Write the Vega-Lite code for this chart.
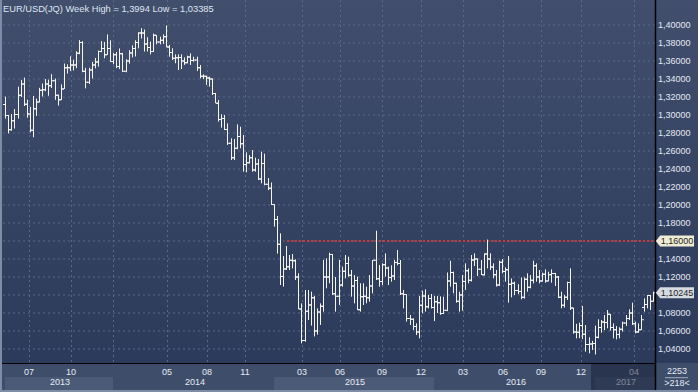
{
"$schema":"https://vega.github.io/schema/vega-lite/v6.json",
"width":698,"height":392,"autosize":{"type":"none"},"padding":0,
"background":"#36435f",
"config":{"view":{"stroke":null},"font":"Liberation Sans","locale":{"number":{"decimal":",","thousands":".","grouping":[3],"currency":["","€"]}}},
"datasets":{
"bars":[
{"d":"2013-05-06","o":1.3118,"h":1.3204,"l":1.2960,"c":1.2995},
{"d":"2013-05-13","o":1.2995,"h":1.3000,"l":1.2796,"c":1.2835},
{"d":"2013-05-20","o":1.2835,"h":1.3010,"l":1.2825,"c":1.2935},
{"d":"2013-05-27","o":1.2935,"h":1.3067,"l":1.2850,"c":1.3005},
{"d":"2013-06-03","o":1.3005,"h":1.3315,"l":1.2960,"c":1.3220},
{"d":"2013-06-10","o":1.3220,"h":1.3390,"l":1.3200,"c":1.3345},
{"d":"2013-06-17","o":1.3345,"h":1.3416,"l":1.3100,"c":1.3120},
{"d":"2013-06-24","o":1.3120,"h":1.3170,"l":1.2970,"c":1.3010},
{"d":"2013-07-01","o":1.3010,"h":1.3090,"l":1.2807,"c":1.2830},
{"d":"2013-07-08","o":1.2830,"h":1.3212,"l":1.2752,"c":1.3070},
{"d":"2013-07-15","o":1.3070,"h":1.3182,"l":1.2990,"c":1.3145},
{"d":"2013-07-22","o":1.3145,"h":1.3302,"l":1.3140,"c":1.3275},
{"d":"2013-07-29","o":1.3275,"h":1.3350,"l":1.3205,"c":1.3280},
{"d":"2013-08-05","o":1.3280,"h":1.3400,"l":1.3265,"c":1.3345},
{"d":"2013-08-12","o":1.3345,"h":1.3392,"l":1.3214,"c":1.3325},
{"d":"2013-08-19","o":1.3325,"h":1.3454,"l":1.3300,"c":1.3380},
{"d":"2013-08-26","o":1.3380,"h":1.3404,"l":1.3168,"c":1.3220},
{"d":"2013-09-02","o":1.3220,"h":1.3228,"l":1.3104,"c":1.3170},
{"d":"2013-09-09","o":1.3170,"h":1.3340,"l":1.3165,"c":1.3290},
{"d":"2013-09-16","o":1.3290,"h":1.3572,"l":1.3289,"c":1.3525},
{"d":"2013-09-23","o":1.3525,"h":1.3562,"l":1.3460,"c":1.3525},
{"d":"2013-09-30","o":1.3525,"h":1.3652,"l":1.3490,"c":1.3555},
{"d":"2013-10-07","o":1.3555,"h":1.3615,"l":1.3495,"c":1.3555},
{"d":"2013-10-14","o":1.3555,"h":1.3708,"l":1.3520,"c":1.3685},
{"d":"2013-10-21","o":1.3685,"h":1.3832,"l":1.3676,"c":1.3805},
{"d":"2013-10-28","o":1.3805,"h":1.3820,"l":1.3476,"c":1.3485},
{"d":"2013-11-04","o":1.3485,"h":1.3525,"l":1.3296,"c":1.3365},
{"d":"2013-11-11","o":1.3365,"h":1.3525,"l":1.3345,"c":1.3500},
{"d":"2013-11-18","o":1.3500,"h":1.3590,"l":1.3405,"c":1.3555},
{"d":"2013-11-25","o":1.3555,"h":1.3634,"l":1.3518,"c":1.3590},
{"d":"2013-12-02","o":1.3590,"h":1.3716,"l":1.3538,"c":1.3705},
{"d":"2013-12-09","o":1.3705,"h":1.3821,"l":1.3698,"c":1.3740},
{"d":"2013-12-16","o":1.3740,"h":1.3812,"l":1.3630,"c":1.3670},
{"d":"2013-12-23","o":1.3670,"h":1.3896,"l":1.3668,"c":1.3740},
{"d":"2013-12-30","o":1.3740,"h":1.3830,"l":1.3590,"c":1.3595},
{"d":"2014-01-06","o":1.3595,"h":1.3690,"l":1.3565,"c":1.3670},
{"d":"2014-01-13","o":1.3670,"h":1.3700,"l":1.3520,"c":1.3540},
{"d":"2014-01-20","o":1.3540,"h":1.3740,"l":1.3510,"c":1.3680},
{"d":"2014-01-27","o":1.3680,"h":1.3690,"l":1.3478,"c":1.3485},
{"d":"2014-02-03","o":1.3485,"h":1.3620,"l":1.3475,"c":1.3600},
{"d":"2014-02-10","o":1.3600,"h":1.3720,"l":1.3570,"c":1.3690},
{"d":"2014-02-17","o":1.3690,"h":1.3775,"l":1.3640,"c":1.3740},
{"d":"2014-02-24","o":1.3740,"h":1.3830,"l":1.3650,"c":1.3805},
{"d":"2014-03-03","o":1.3805,"h":1.3920,"l":1.3740,"c":1.3910},
{"d":"2014-03-10","o":1.3910,"h":1.3965,"l":1.3850,"c":1.3910},
{"d":"2014-03-17","o":1.3910,"h":1.3950,"l":1.3705,"c":1.3790},
{"d":"2014-03-24","o":1.3790,"h":1.3865,"l":1.3705,"c":1.3750},
{"d":"2014-03-31","o":1.3750,"h":1.3815,"l":1.3674,"c":1.3705},
{"d":"2014-04-07","o":1.3705,"h":1.3905,"l":1.3700,"c":1.3885},
{"d":"2014-04-14","o":1.3885,"h":1.3890,"l":1.3785,"c":1.3810},
{"d":"2014-04-21","o":1.3810,"h":1.3870,"l":1.3785,"c":1.3830},
{"d":"2014-04-28","o":1.3830,"h":1.3896,"l":1.3790,"c":1.3870},
{"d":"2014-05-05","o":1.3870,"h":1.3994,"l":1.3752,"c":1.3755},
{"d":"2014-05-12","o":1.3755,"h":1.3778,"l":1.3648,"c":1.3695},
{"d":"2014-05-19","o":1.3695,"h":1.3741,"l":1.3611,"c":1.3630},
{"d":"2014-05-26","o":1.3630,"h":1.3674,"l":1.3574,"c":1.3635},
{"d":"2014-06-02","o":1.3635,"h":1.3674,"l":1.3500,"c":1.3640},
{"d":"2014-06-09","o":1.3640,"h":1.3674,"l":1.3511,"c":1.3600},
{"d":"2014-06-16","o":1.3600,"h":1.3640,"l":1.3556,"c":1.3580},
{"d":"2014-06-23","o":1.3580,"h":1.3659,"l":1.3574,"c":1.3645},
{"d":"2014-06-30","o":1.3645,"h":1.3685,"l":1.3556,"c":1.3605},
{"d":"2014-07-07","o":1.3605,"h":1.3648,"l":1.3593,"c":1.3610},
{"d":"2014-07-14","o":1.3610,"h":1.3648,"l":1.3489,"c":1.3525},
{"d":"2014-07-21","o":1.3525,"h":1.3556,"l":1.3407,"c":1.3430},
{"d":"2014-07-28","o":1.3430,"h":1.3452,"l":1.3400,"c":1.3430},
{"d":"2014-08-04","o":1.3430,"h":1.3437,"l":1.3333,"c":1.3410},
{"d":"2014-08-11","o":1.3410,"h":1.3426,"l":1.3315,"c":1.3400},
{"d":"2014-08-18","o":1.3400,"h":1.3407,"l":1.3222,"c":1.3240},
{"d":"2014-08-25","o":1.3240,"h":1.3245,"l":1.3130,"c":1.3130},
{"d":"2014-09-01","o":1.3130,"h":1.3167,"l":1.2926,"c":1.2950},
{"d":"2014-09-08","o":1.2950,"h":1.3007,"l":1.2859,"c":1.2960},
{"d":"2014-09-15","o":1.2960,"h":1.3000,"l":1.2833,"c":1.2840},
{"d":"2014-09-22","o":1.2840,"h":1.2907,"l":1.2667,"c":1.2685},
{"d":"2014-09-29","o":1.2685,"h":1.2741,"l":1.2500,"c":1.2525},
{"d":"2014-10-06","o":1.2525,"h":1.2733,"l":1.2500,"c":1.2630},
{"d":"2014-10-13","o":1.2630,"h":1.2896,"l":1.2620,"c":1.2760},
{"d":"2014-10-20","o":1.2760,"h":1.2870,"l":1.2630,"c":1.2680},
{"d":"2014-10-27","o":1.2680,"h":1.2778,"l":1.2370,"c":1.2450},
{"d":"2014-11-03","o":1.2450,"h":1.2585,"l":1.2363,"c":1.2470},
{"d":"2014-11-10","o":1.2470,"h":1.2555,"l":1.2460,"c":1.2525},
{"d":"2014-11-17","o":1.2525,"h":1.2611,"l":1.2370,"c":1.2390},
{"d":"2014-11-24","o":1.2390,"h":1.2526,"l":1.2370,"c":1.2455},
{"d":"2014-12-01","o":1.2455,"h":1.2511,"l":1.2278,"c":1.2290},
{"d":"2014-12-08","o":1.2290,"h":1.2593,"l":1.2241,"c":1.2460},
{"d":"2014-12-15","o":1.2460,"h":1.2570,"l":1.2220,"c":1.2230},
{"d":"2014-12-22","o":1.2230,"h":1.2300,"l":1.2165,"c":1.2185},
{"d":"2014-12-29","o":1.2185,"h":1.2250,"l":1.2000,"c":1.2005},
{"d":"2015-01-05","o":1.2005,"h":1.2010,"l":1.1760,"c":1.1840},
{"d":"2015-01-12","o":1.1840,"h":1.1878,"l":1.1460,"c":1.1565},
{"d":"2015-01-19","o":1.1565,"h":1.1685,"l":1.1111,"c":1.1205},
{"d":"2015-01-26","o":1.1205,"h":1.1433,"l":1.1093,"c":1.1290},
{"d":"2015-02-02","o":1.1290,"h":1.1544,"l":1.1278,"c":1.1315},
{"d":"2015-02-09","o":1.1315,"h":1.1444,"l":1.1278,"c":1.1385},
{"d":"2015-02-16","o":1.1385,"h":1.1455,"l":1.1296,"c":1.1380},
{"d":"2015-02-23","o":1.1380,"h":1.1396,"l":1.1167,"c":1.1200},
{"d":"2015-03-02","o":1.1200,"h":1.1241,"l":1.0841,"c":1.0845},
{"d":"2015-03-09","o":1.0845,"h":1.0907,"l":1.0463,"c":1.0495},
{"d":"2015-03-16","o":1.0495,"h":1.1055,"l":1.0481,"c":1.0820},
{"d":"2015-03-23","o":1.0820,"h":1.1055,"l":1.0722,"c":1.0890},
{"d":"2015-03-30","o":1.0890,"h":1.1037,"l":1.0660,"c":1.0970},
{"d":"2015-04-06","o":1.0970,"h":1.0990,"l":1.0540,"c":1.0600},
{"d":"2015-04-13","o":1.0600,"h":1.0852,"l":1.0560,"c":1.0810},
{"d":"2015-04-20","o":1.0810,"h":1.0907,"l":1.0667,"c":1.0875},
{"d":"2015-04-27","o":1.0875,"h":1.1389,"l":1.0815,"c":1.1200},
{"d":"2015-05-04","o":1.1200,"h":1.1407,"l":1.1074,"c":1.1200},
{"d":"2015-05-11","o":1.1200,"h":1.1470,"l":1.1130,"c":1.1450},
{"d":"2015-05-18","o":1.1450,"h":1.1455,"l":1.1000,"c":1.1015},
{"d":"2015-05-25","o":1.1015,"h":1.1200,"l":1.0815,"c":1.0985},
{"d":"2015-06-01","o":1.0985,"h":1.1389,"l":1.0889,"c":1.1110},
{"d":"2015-06-08","o":1.1110,"h":1.1315,"l":1.1092,"c":1.1265},
{"d":"2015-06-15","o":1.1265,"h":1.1444,"l":1.1185,"c":1.1350},
{"d":"2015-06-22","o":1.1350,"h":1.1426,"l":1.1204,"c":1.1220},
{"d":"2015-06-29","o":1.1220,"h":1.1278,"l":1.0981,"c":1.1100},
{"d":"2015-07-06","o":1.1100,"h":1.1222,"l":1.0907,"c":1.1160},
{"d":"2015-07-13","o":1.1160,"h":1.1204,"l":1.0833,"c":1.0835},
{"d":"2015-07-20","o":1.0835,"h":1.1130,"l":1.0815,"c":1.0980},
{"d":"2015-07-27","o":1.0980,"h":1.1130,"l":1.0889,"c":1.0985},
{"d":"2015-08-03","o":1.0985,"h":1.1092,"l":1.0907,"c":1.0970},
{"d":"2015-08-10","o":1.0970,"h":1.1222,"l":1.0926,"c":1.1100},
{"d":"2015-08-17","o":1.1100,"h":1.1389,"l":1.1018,"c":1.1385},
{"d":"2015-08-24","o":1.1385,"h":1.1714,"l":1.1166,"c":1.1180},
{"d":"2015-08-31","o":1.1180,"h":1.1333,"l":1.1092,"c":1.1150},
{"d":"2015-09-07","o":1.1150,"h":1.1352,"l":1.1111,"c":1.1335},
{"d":"2015-09-14","o":1.1335,"h":1.1463,"l":1.1204,"c":1.1300},
{"d":"2015-09-21","o":1.1300,"h":1.1315,"l":1.1111,"c":1.1195},
{"d":"2015-09-28","o":1.1195,"h":1.1330,"l":1.1148,"c":1.1210},
{"d":"2015-10-05","o":1.1210,"h":1.1389,"l":1.1166,"c":1.1360},
{"d":"2015-10-12","o":1.1360,"h":1.1500,"l":1.1330,"c":1.1350},
{"d":"2015-10-19","o":1.1350,"h":1.1389,"l":1.1000,"c":1.1015},
{"d":"2015-10-26","o":1.1015,"h":1.1056,"l":1.0852,"c":1.1005},
{"d":"2015-11-02","o":1.1005,"h":1.1010,"l":1.0704,"c":1.0740},
{"d":"2015-11-09","o":1.0740,"h":1.0778,"l":1.0667,"c":1.0730},
{"d":"2015-11-16","o":1.0730,"h":1.0741,"l":1.0611,"c":1.0650},
{"d":"2015-11-23","o":1.0650,"h":1.0685,"l":1.0555,"c":1.0590},
{"d":"2015-11-30","o":1.0590,"h":1.0989,"l":1.0518,"c":1.0885},
{"d":"2015-12-07","o":1.0885,"h":1.1048,"l":1.0796,"c":1.0990},
{"d":"2015-12-14","o":1.0990,"h":1.1063,"l":1.0815,"c":1.0870},
{"d":"2015-12-21","o":1.0870,"h":1.1000,"l":1.0852,"c":1.0960},
{"d":"2015-12-28","o":1.0960,"h":1.1011,"l":1.0850,"c":1.0860},
{"d":"2016-01-04","o":1.0860,"h":1.0990,"l":1.0710,"c":1.0925},
{"d":"2016-01-11","o":1.0925,"h":1.0990,"l":1.0800,"c":1.0915},
{"d":"2016-01-18","o":1.0915,"h":1.0985,"l":1.0780,"c":1.0795},
{"d":"2016-01-25","o":1.0795,"h":1.0981,"l":1.0790,"c":1.0830},
{"d":"2016-02-01","o":1.0830,"h":1.1250,"l":1.0820,"c":1.1155},
{"d":"2016-02-08","o":1.1155,"h":1.1381,"l":1.1093,"c":1.1250},
{"d":"2016-02-15","o":1.1250,"h":1.1260,"l":1.1019,"c":1.1130},
{"d":"2016-02-22","o":1.1130,"h":1.1137,"l":1.0915,"c":1.0930},
{"d":"2016-02-29","o":1.0930,"h":1.1037,"l":1.0815,"c":1.1000},
{"d":"2016-03-07","o":1.1000,"h":1.1222,"l":1.0826,"c":1.1150},
{"d":"2016-03-14","o":1.1150,"h":1.1352,"l":1.1056,"c":1.1270},
{"d":"2016-03-21","o":1.1270,"h":1.1296,"l":1.1130,"c":1.1165},
{"d":"2016-03-28","o":1.1165,"h":1.1444,"l":1.1150,"c":1.1390},
{"d":"2016-04-04","o":1.1390,"h":1.1463,"l":1.1322,"c":1.1400},
{"d":"2016-04-11","o":1.1400,"h":1.1407,"l":1.1211,"c":1.1285},
{"d":"2016-04-18","o":1.1285,"h":1.1389,"l":1.1222,"c":1.1225},
{"d":"2016-04-25","o":1.1225,"h":1.1463,"l":1.1215,"c":1.1455},
{"d":"2016-05-02","o":1.1455,"h":1.1616,"l":1.1296,"c":1.1400},
{"d":"2016-05-09","o":1.1400,"h":1.1463,"l":1.1278,"c":1.1310},
{"d":"2016-05-16","o":1.1310,"h":1.1352,"l":1.1185,"c":1.1225},
{"d":"2016-05-23","o":1.1225,"h":1.1278,"l":1.1093,"c":1.1110},
{"d":"2016-05-30","o":1.1110,"h":1.1381,"l":1.1100,"c":1.1365},
{"d":"2016-06-06","o":1.1365,"h":1.1400,"l":1.1240,"c":1.1260},
{"d":"2016-06-13","o":1.1260,"h":1.1307,"l":1.1148,"c":1.1280},
{"d":"2016-06-20","o":1.1280,"h":1.1433,"l":1.0915,"c":1.1120},
{"d":"2016-06-27","o":1.1120,"h":1.1185,"l":1.0974,"c":1.1130},
{"d":"2016-07-04","o":1.1130,"h":1.1148,"l":1.1000,"c":1.1050},
{"d":"2016-07-11","o":1.1050,"h":1.1120,"l":1.1010,"c":1.1040},
{"d":"2016-07-18","o":1.1040,"h":1.1196,"l":1.0952,"c":1.0975},
{"d":"2016-07-25","o":1.0975,"h":1.1196,"l":1.0960,"c":1.1175},
{"d":"2016-08-01","o":1.1175,"h":1.1241,"l":1.1037,"c":1.1085},
{"d":"2016-08-08","o":1.1085,"h":1.1222,"l":1.1074,"c":1.1165},
{"d":"2016-08-15","o":1.1165,"h":1.1381,"l":1.1130,"c":1.1325},
{"d":"2016-08-22","o":1.1325,"h":1.1352,"l":1.1148,"c":1.1200},
{"d":"2016-08-29","o":1.1200,"h":1.1278,"l":1.1130,"c":1.1155},
{"d":"2016-09-05","o":1.1155,"h":1.1248,"l":1.1148,"c":1.1230},
{"d":"2016-09-12","o":1.1230,"h":1.1285,"l":1.1137,"c":1.1155},
{"d":"2016-09-19","o":1.1155,"h":1.1259,"l":1.1150,"c":1.1225},
{"d":"2016-09-26","o":1.1225,"h":1.1285,"l":1.1137,"c":1.1240},
{"d":"2016-10-03","o":1.1240,"h":1.1245,"l":1.1100,"c":1.1200},
{"d":"2016-10-10","o":1.1200,"h":1.1211,"l":1.0965,"c":1.0975},
{"d":"2016-10-17","o":1.0975,"h":1.1037,"l":1.0852,"c":1.0885},
{"d":"2016-10-24","o":1.0885,"h":1.1000,"l":1.0860,"c":1.0975},
{"d":"2016-10-31","o":1.0975,"h":1.1148,"l":1.0944,"c":1.1140},
{"d":"2016-11-07","o":1.1140,"h":1.1296,"l":1.0833,"c":1.0855},
{"d":"2016-11-14","o":1.0855,"h":1.0860,"l":1.0570,"c":1.0590},
{"d":"2016-11-21","o":1.0590,"h":1.0680,"l":1.0518,"c":1.0585},
{"d":"2016-11-28","o":1.0585,"h":1.0693,"l":1.0520,"c":1.0660},
{"d":"2016-12-05","o":1.0660,"h":1.0878,"l":1.0510,"c":1.0565},
{"d":"2016-12-12","o":1.0565,"h":1.0667,"l":1.0370,"c":1.0450},
{"d":"2016-12-19","o":1.0450,"h":1.0530,"l":1.0352,"c":1.0455},
{"d":"2016-12-26","o":1.0455,"h":1.0490,"l":1.0390,"c":1.0460},
{"d":"2017-01-02","o":1.0460,"h":1.0660,"l":1.03385,"c":1.0530},
{"d":"2017-01-09","o":1.0530,"h":1.0730,"l":1.0518,"c":1.0640},
{"d":"2017-01-16","o":1.0640,"h":1.0722,"l":1.0581,"c":1.0700},
{"d":"2017-01-23","o":1.0700,"h":1.0778,"l":1.0611,"c":1.0695},
{"d":"2017-01-30","o":1.0695,"h":1.0833,"l":1.0630,"c":1.0785},
{"d":"2017-02-06","o":1.0785,"h":1.0789,"l":1.0604,"c":1.0640},
{"d":"2017-02-13","o":1.0640,"h":1.0685,"l":1.0518,"c":1.0615},
{"d":"2017-02-20","o":1.0615,"h":1.0655,"l":1.0507,"c":1.0560},
{"d":"2017-02-27","o":1.0560,"h":1.0641,"l":1.0518,"c":1.0620},
{"d":"2017-03-06","o":1.0620,"h":1.0704,"l":1.0593,"c":1.0690},
{"d":"2017-03-13","o":1.0690,"h":1.0778,"l":1.0656,"c":1.0740},
{"d":"2017-03-20","o":1.0740,"h":1.0841,"l":1.0722,"c":1.0800},
{"d":"2017-03-27","o":1.0800,"h":1.0915,"l":1.0667,"c":1.0680},
{"d":"2017-04-03","o":1.0680,"h":1.0704,"l":1.0574,"c":1.0590},
{"d":"2017-04-10","o":1.0590,"h":1.0685,"l":1.0580,"c":1.0615},
{"d":"2017-04-17","o":1.0615,"h":1.0778,"l":1.0610,"c":1.0725},
{"d":"2017-04-24","o":1.0860,"h":1.0963,"l":1.0815,"c":1.0895},
{"d":"2017-05-01","o":1.0895,"h":1.1000,"l":1.0852,"c":1.0995},
{"d":"2017-05-08","o":1.0995,"h":1.1000,"l":1.0833,"c":1.0930},
{"d":"2017-05-15","o":1.0930,"h":1.1037,"l":1.0925,"c":1.10245}
],
"hgrid":[{"v":1.04},{"v":1.06},{"v":1.08},{"v":1.10},{"v":1.12},{"v":1.14},{"v":1.16},{"v":1.18},{"v":1.20},{"v":1.22},{"v":1.24},{"v":1.26},{"v":1.28},{"v":1.30},{"v":1.32},{"v":1.34},{"v":1.36},{"v":1.38},{"v":1.40}],
"vgrid":[{"d":"2013-06-30"},{"d":"2013-10-03"},{"d":"2014-01-06"},{"d":"2014-05-08"},{"d":"2014-08-06"},{"d":"2014-11-02"},{"d":"2015-03-10"},{"d":"2015-06-05"},{"d":"2015-09-08"},{"d":"2015-12-06"},{"d":"2016-03-10"},{"d":"2016-06-07"},{"d":"2016-09-03"},{"d":"2016-12-01"},{"d":"2017-04-02"}],
"months":[{"d":"2013-06-30","t":"07"},{"d":"2013-10-03","t":"10"},{"d":"2014-05-08","t":"05"},{"d":"2014-08-06","t":"08"},{"d":"2014-11-02","t":"11"},{"d":"2015-03-10","t":"03"},{"d":"2015-06-05","t":"06"},{"d":"2015-09-08","t":"09"},{"d":"2015-12-06","t":"12"},{"d":"2016-03-10","t":"03"},{"d":"2016-06-07","t":"06"},{"d":"2016-09-03","t":"09"},{"d":"2016-12-01","t":"12"},{"d":"2017-04-02","t":"04"}],
"yearBands":[{"s":"2013-05-06","e":"2014-01-06"},{"s":"2015-01-05","e":"2016-01-04"},{"s":"2017-01-02","e":"2017-05-18T19:00:00Z"}],
"years":[{"d":"2013-09-08","t":"2013"},{"d":"2014-07-10","t":"2014"},{"d":"2015-07-09","t":"2015"},{"d":"2016-07-07","t":"2016"},{"d":"2017-03-14","t":"2017"}]
},
"layer":[
{"data":{"values":[{}]},
 "mark":{"type":"rect","fill":{"gradient":"linear","x1":0,"y1":0,"x2":0,"y2":1,"stops":[{"offset":0,"color":"#414e6c"},{"offset":1,"color":"#2c3a5b"}]}},
 "encoding":{
  "x":{"datum":1366779600000,"type":"temporal","scale":{"domain":[1366779600000,1503558000000],"nice":false,"padding":0,"round":true},"axis":null},
  "x2":{"datum":1503558000000},
  "y":{"datum":1.427778,"type":"quantitative","scale":{"domain":[0.992222,1.427778],"nice":false,"zero":false,"padding":0},"axis":null},
  "y2":{"datum":1.024444}}},
{"data":{"values":[{}]},
 "mark":{"type":"rect","fill":"#3e4d6a"},
 "encoding":{
  "x":{"datum":1366779600000,"type":"temporal","axis":null},
  "x2":{"datum":1503558000000},
  "y":{"datum":1.024444,"type":"quantitative","axis":null},
  "y2":{"datum":0.992222}}},
{"data":{"name":"yearBands"},
 "mark":{"type":"rect","fill":"#4b5a77"},
 "encoding":{
  "x":{"field":"s","type":"temporal","axis":null},
  "x2":{"field":"e"},
  "y":{"datum":1.008889,"type":"quantitative","axis":null},
  "y2":{"datum":0.994444}}},
{"data":{"name":"hgrid"},
 "mark":{"type":"rule","color":"#5b6988","strokeWidth":1,"strokeDash":[2,3]},
 "encoding":{
  "y":{"field":"v","type":"quantitative","axis":null},
  "x":{"datum":1367366400000,"type":"temporal","axis":null},
  "x2":{"datum":1495134000000}}},
{"data":{"name":"vgrid"},
 "mark":{"type":"rule","color":"#5b6988","strokeWidth":1,"strokeDash":[2,3],"xOffset":0.5},
 "encoding":{
  "x":{"field":"d","type":"temporal","axis":null},
  "y":{"datum":1.427778,"type":"quantitative","axis":null},
  "y2":{"datum":1.024444}}},
{"data":{"values":[{}]},
 "mark":{"type":"rule","color":"#c83a3a","strokeWidth":2,"strokeDash":[2,2]},
 "encoding":{
  "y":{"datum":1.16,"type":"quantitative","axis":null},
  "x":{"datum":1422921600000,"type":"temporal","axis":null},
  "x2":{"datum":1495134000000}}},
{"data":{"name":"bars"},
 "mark":{"type":"rule","color":"#f6f4ef","strokeWidth":1,"xOffset":0.5},
 "encoding":{
  "x":{"field":"d","type":"temporal","axis":null},
  "y":{"field":"l","type":"quantitative","axis":null},
  "y2":{"field":"h"}}},
{"data":{"name":"bars"},
 "mark":{"type":"tick","orient":"horizontal","size":2,"thickness":1,"xOffset":-1,"color":"#f6f4ef","opacity":1},
 "encoding":{
  "x":{"field":"d","type":"temporal","axis":null},
  "y":{"field":"o","type":"quantitative","axis":null}}},
{"data":{"name":"bars"},
 "mark":{"type":"tick","orient":"horizontal","size":2,"thickness":1,"xOffset":2,"color":"#f6f4ef","opacity":1},
 "encoding":{
  "x":{"field":"d","type":"temporal","axis":null},
  "y":{"field":"c","type":"quantitative","axis":null}}},
{"data":{"name":"months"},
 "mark":{"type":"text","font":"Liberation Sans","fontSize":9,"color":"#e6ebf4","align":"center","baseline":"middle"},
 "encoding":{
  "x":{"field":"d","type":"temporal","axis":null},
  "y":{"datum":1.014444,"type":"quantitative","axis":null},
  "text":{"field":"t"}}},
{"data":{"name":"years"},
 "mark":{"type":"text","font":"Liberation Sans","fontSize":9,"color":"#e6ebf4","align":"center","baseline":"middle"},
 "encoding":{
  "x":{"field":"d","type":"temporal","axis":null},
  "y":{"datum":1.003,"type":"quantitative","axis":null},
  "text":{"field":"t"}}},
{"data":{"values":[{}]},
 "mark":{"type":"rect","fill":"#131b31","opacity":0.5},
 "encoding":{
  "x":{"datum":1482537600000,"type":"temporal","axis":null},
  "x2":{"datum":1495134000000},
  "y":{"datum":1.024444,"type":"quantitative","axis":null},
  "y2":{"datum":0.994444}}},
{"data":{"values":[{}]},
 "mark":{"type":"rule","color":"#000000","strokeWidth":1,"yOffset":0.5},
 "encoding":{
  "y":{"datum":1.024444,"type":"quantitative","axis":null},
  "x":{"datum":1366779600000,"type":"temporal","axis":null},
  "x2":{"datum":1495134000000}}},
{"data":{"values":[{}]},
 "mark":{"type":"rule","color":"#000000","strokeWidth":1.5,"xOffset":0.5},
 "encoding":{
  "x":{"datum":1495134000000,"type":"temporal","axis":null},
  "y":{"datum":1.427778,"type":"quantitative","axis":null},
  "y2":{"datum":0.992222}}},
{"data":{"values":[{}]},
 "mark":{"type":"rule","color":"#7f8ca6","strokeWidth":2,"xOffset":1},
 "encoding":{
  "x":{"datum":1366779600000,"type":"temporal","axis":null},
  "y":{"datum":1.427778,"type":"quantitative","axis":null},
  "y2":{"datum":0.992222}}},
{"data":{"values":[{}]},
 "mark":{"type":"rule","color":"#7f8ca6","strokeWidth":2,"yOffset":-1},
 "encoding":{
  "y":{"datum":0.992222,"type":"quantitative","axis":null},
  "x":{"datum":1366779600000,"type":"temporal","axis":null},
  "x2":{"datum":1503558000000}}},
{"data":{"name":"hgrid"},
 "transform":[{"filter":"datum.v != 1.1 && datum.v != 1.16"}],
 "mark":{"type":"text","font":"Liberation Sans","fontSize":9,"color":"#e4eaf4","align":"left","baseline":"middle"},
 "encoding":{
  "x":{"datum":1495719700000,"type":"temporal","axis":null},
  "y":{"field":"v","type":"quantitative","axis":null},
  "text":{"field":"v","type":"quantitative","format":".5f"}}},
{"data":{"values":[{}]},
 "mark":{"type":"rule","color":"#a3adbf","strokeWidth":1},
 "encoding":{
  "y":{"datum":1.008111,"type":"quantitative","axis":null},
  "x":{"datum":1497096000000,"type":"temporal","axis":null},
  "x2":{"datum":1501606800000}}},
{"data":{"values":[{}]},
 "mark":{"type":"text","font":"Liberation Sans","fontSize":9,"color":"#e6ebf4","align":"center","baseline":"middle","text":"2253"},
 "encoding":{
  "x":{"datum":1499446800000,"type":"temporal","axis":null},
  "y":{"datum":1.01589,"type":"quantitative","axis":null}}},
{"data":{"values":[{}]},
 "mark":{"type":"text","font":"Liberation Sans","fontSize":9,"color":"#e6ebf4","align":"center","baseline":"middle","text":">218<"},
 "encoding":{
  "x":{"datum":1499446800000,"type":"temporal","axis":null},
  "y":{"datum":1.00189,"type":"quantitative","axis":null}}},
{"data":{"values":[{}]},
 "mark":{"type":"rect","fill":"#efedd6"},
 "encoding":{
  "x":{"datum":1496113200000,"type":"temporal","axis":null},
  "x2":{"datum":1502776800000},
  "y":{"datum":1.166111,"type":"quantitative","axis":null},
  "y2":{"datum":1.153889}}},
{"data":{"values":[{}]},
 "mark":{"type":"point","shape":"M0.4,-1L-0.4,0L0.4,1Z","size":121,"filled":true,"fill":"#efedd6","opacity":1,"strokeWidth":0},
 "encoding":{
  "x":{"datum":1495724400000,"type":"temporal","axis":null},
  "y":{"datum":1.16,"type":"quantitative","axis":null}}},
{"data":{"values":[{}]},
 "mark":{"type":"text","font":"Liberation Sans","fontSize":9,"color":"#1e1e1e","align":"center","baseline":"middle","text":"1,16000"},
 "encoding":{
  "x":{"datum":1499446800000,"type":"temporal","axis":null},
  "y":{"datum":1.16,"type":"quantitative","axis":null}}},
{"data":{"values":[{}]},
 "mark":{"type":"rect","fill":"#d6dae1"},
 "encoding":{
  "x":{"datum":1496113200000,"type":"temporal","axis":null},
  "x2":{"datum":1502776800000},
  "y":{"datum":1.108561,"type":"quantitative","axis":null},
  "y2":{"datum":1.096339}}},
{"data":{"values":[{}]},
 "mark":{"type":"point","shape":"M0.4,-1L-0.4,0L0.4,1Z","size":121,"filled":true,"fill":"#d6dae1","opacity":1,"strokeWidth":0},
 "encoding":{
  "x":{"datum":1495724400000,"type":"temporal","axis":null},
  "y":{"datum":1.10245,"type":"quantitative","axis":null}}},
{"data":{"values":[{}]},
 "mark":{"type":"text","font":"Liberation Sans","fontSize":9,"color":"#1e1e1e","align":"center","baseline":"middle","text":"1,10245"},
 "encoding":{
  "x":{"datum":1499446800000,"type":"temporal","axis":null},
  "y":{"datum":1.10245,"type":"quantitative","axis":null}}},
{"data":{"values":[{}]},
 "mark":{"type":"text","font":"Liberation Sans","fontSize":9.3,"color":"#dfe6f2","align":"left","baseline":"alphabetic","dx":3,"text":"EUR/USD(JQ) Week High = 1,3994 Low = 1,03385"},
 "encoding":{
  "x":{"datum":1366779600000,"type":"temporal","axis":null},
  "y":{"datum":1.415,"type":"quantitative","axis":null}}}
]
}
